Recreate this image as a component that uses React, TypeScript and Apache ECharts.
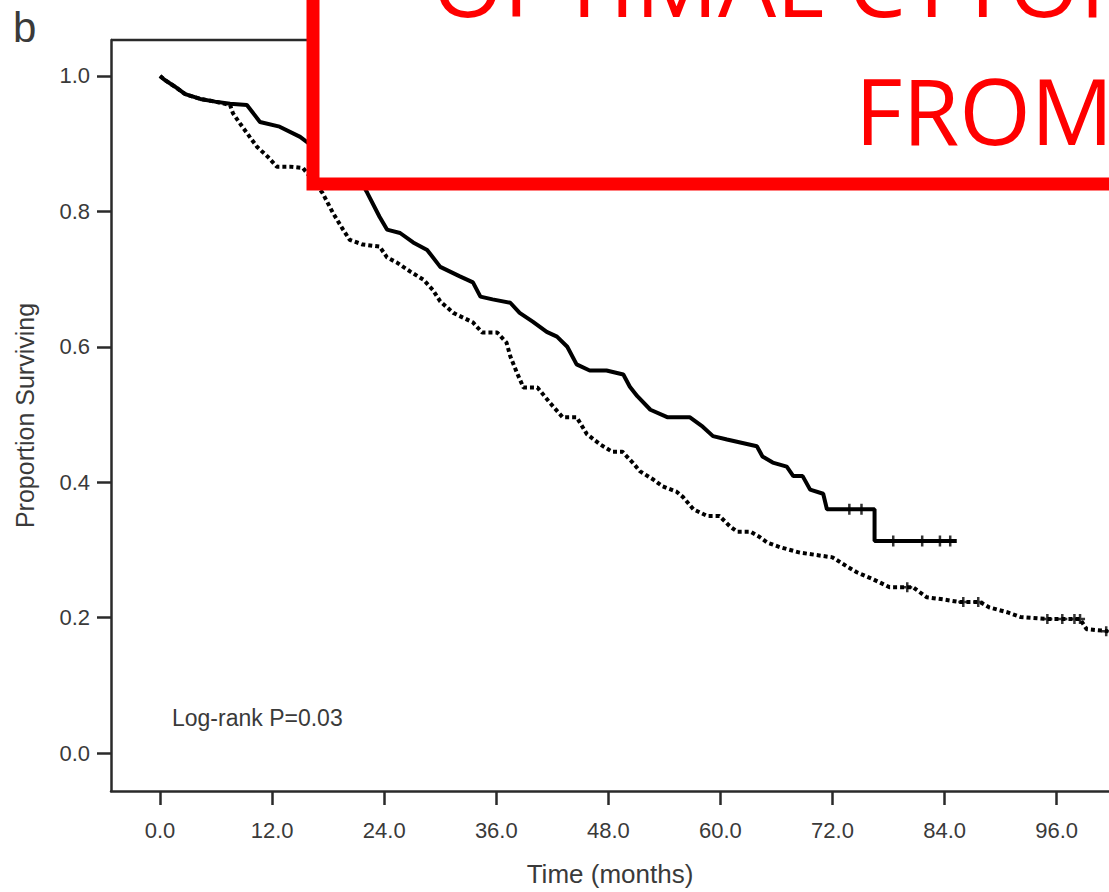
import React, { useEffect, useRef } from "react";
import * as echarts from "echarts";

// Solid curve (months, proportion surviving)
const solidMonths = [0, 0.5, 1.6, 2.7, 4.3, 5.9, 7.5, 9.3, 10.7, 12.8, 15.0, 17.1, 19.3, 21.4, 22.2, 23.5, 24.3, 25.7, 27.1, 28.6, 30.0, 32.1, 33.5, 34.3, 35.6, 37.5, 38.5, 39.9, 41.4, 42.5, 43.6, 44.6, 46.0, 47.8, 49.6, 50.3, 51.1, 52.5, 54.3, 56.7, 58.1, 59.2, 60.7, 63.9, 64.5, 65.6, 67.1, 67.8, 68.8, 69.6, 71.0, 71.4, 76.5, 76.5, 85.3];
const solidSurv = [1.0, 0.994, 0.984, 0.973, 0.966, 0.962, 0.959, 0.957, 0.932, 0.925, 0.91, 0.888, 0.869, 0.847, 0.827, 0.792, 0.773, 0.768, 0.754, 0.743, 0.718, 0.704, 0.695, 0.674, 0.67, 0.665, 0.65, 0.637, 0.622, 0.615, 0.6, 0.574, 0.565, 0.565, 0.559, 0.541, 0.527, 0.507, 0.496, 0.496, 0.482, 0.468, 0.463, 0.453, 0.438, 0.429, 0.423, 0.409, 0.409, 0.389, 0.383, 0.36, 0.36, 0.313, 0.313];

// Dotted curve
const dottedMonths = [0, 0.5, 1.6, 2.7, 4.3, 5.9, 7.5, 7.8, 8.6, 9.6, 10.4, 11.5, 12.5, 13.9, 15.3, 16.3, 17.4, 18.5, 19.6, 20.3, 21.7, 23.5, 24.3, 25.4, 26.8, 28.2, 29.2, 30.0, 31.4, 33.5, 34.5, 36.1, 37.1, 37.5, 38.2, 38.9, 40.4, 41.7, 43.1, 44.6, 45.7, 47.1, 48.4, 49.5, 50.6, 51.4, 52.8, 53.8, 55.3, 56.0, 57.1, 58.6, 59.9, 61.0, 61.8, 63.2, 64.2, 65.0, 66.4, 68.5, 71.0, 72.0, 73.5, 74.6, 76.3, 78.1, 80.6, 82.1, 83.8, 85.6, 87.8, 88.8, 90.7, 92.1, 95.0, 98.5, 99.2, 101.5];
const dottedSurv = [1.0, 0.994, 0.984, 0.973, 0.966, 0.962, 0.957, 0.945, 0.929, 0.91, 0.895, 0.881, 0.866, 0.866, 0.864, 0.847, 0.827, 0.798, 0.773, 0.758, 0.751, 0.748, 0.732, 0.724, 0.711, 0.699, 0.684, 0.667, 0.65, 0.636, 0.621, 0.621, 0.606, 0.586, 0.562, 0.54, 0.54, 0.518, 0.496, 0.496, 0.471, 0.456, 0.445, 0.445, 0.429, 0.416, 0.404, 0.394, 0.386, 0.378, 0.36, 0.35, 0.35, 0.335, 0.327, 0.327, 0.319, 0.311, 0.304, 0.296, 0.291, 0.289, 0.276, 0.267, 0.257, 0.245, 0.245, 0.23, 0.227, 0.223, 0.223, 0.215, 0.208, 0.201, 0.198, 0.198, 0.183, 0.18];

// Censoring marks
const solidCensorMonths = [73.8, 75.1, 78.5, 81.6, 83.5, 84.6];
const solidCensorSurv = [0.36, 0.36, 0.313, 0.313, 0.313, 0.313];
const dottedCensorMonths = [80.0, 86.0, 87.6, 95.0, 96.6, 97.9, 98.5, 101.3];
const dottedCensorSurv = [0.245, 0.223, 0.223, 0.198, 0.198, 0.198, 0.198, 0.18];

const xTicks = [0, 12, 24, 36, 48, 60, 72, 84, 96];
const yTicks = [0, 0.2, 0.4, 0.6, 0.8, 1.0];

const panelLabel = "b";
const pValueText = "Log-rank P=0.03";
const xName = "Time (months)";
const yName = "Proportion Surviving";
const bannerLine1 = "OPTIMAL CYTOREDUCTION";
const bannerLine2 = "FROM";

const pair = (xs: number[], ys: number[]) => xs.map((x, i) => [x, ys[i]]);

export default function App() {
  const ref = useRef<HTMLDivElement>(null);
  useEffect(() => {
    if (!ref.current) return;
    const chart = echarts.init(ref.current, null, { renderer: "svg" });
    const axisColor = "#2a2a2a";
    const textColor = "#3a3a3a";
    const font = "'Liberation Sans', Arial, sans-serif";
    const bannerFont = "'Open Sans', sans-serif";
    const plus = "path://M0 5H10M5 0V10";
    chart.setOption({
      animation: false,
      backgroundColor: "#ffffff",
      grid: { left: 111, top: 40, right: 0, bottom: 100 },
      xAxis: {
        type: "value",
        min: -5.25,
        max: 101.6,
        name: xName,
        nameLocation: "middle",
        nameGap: 70,
        nameTextStyle: { fontSize: 26, color: textColor, fontFamily: font },
        axisLine: { show: true, onZero: false, lineStyle: { color: axisColor, width: 2.5 } },
        axisTick: { show: true, customValues: xTicks, length: 14, lineStyle: { color: axisColor, width: 2.5 } },
        axisLabel: {
          customValues: xTicks,
          margin: 28,
          fontSize: 22,
          color: textColor,
          fontFamily: font,
          formatter: (v: number) => v.toFixed(1),
        },
        splitLine: { show: false },
      },
      yAxis: {
        type: "value",
        min: -0.056,
        max: 1.053,
        name: yName,
        nameLocation: "middle",
        nameGap: 74,
        nameTextStyle: { fontSize: 25, color: textColor, fontFamily: font },
        axisLine: { show: true, onZero: false, lineStyle: { color: axisColor, width: 2.5 } },
        axisTick: { show: true, customValues: yTicks, length: 14, lineStyle: { color: axisColor, width: 2.5 } },
        axisLabel: {
          customValues: yTicks,
          margin: 21,
          fontSize: 22,
          color: textColor,
          fontFamily: font,
          formatter: (v: number) => v.toFixed(1),
        },
        splitLine: { show: false },
      },
      series: [
        {
          type: "line",
          data: pair(dottedMonths, dottedSurv),
          showSymbol: false,
          lineStyle: { color: "#000", width: 4, type: [4, 3] },
          z: 2,
        },
        {
          type: "line",
          data: pair(solidMonths, solidSurv),
          showSymbol: false,
          lineStyle: { color: "#000", width: 4 },
          z: 3,
        },
        {
          type: "scatter",
          data: pair(solidCensorMonths, solidCensorSurv),
          symbol: plus,
          symbolSize: 11,
          itemStyle: { color: "none", borderColor: "#000", borderWidth: 2.5 },
          z: 4,
        },
        {
          type: "scatter",
          data: pair(dottedCensorMonths, dottedCensorSurv),
          symbol: plus,
          symbolSize: 10,
          itemStyle: { color: "none", borderColor: "#000", borderWidth: 2.5 },
          z: 4,
        },
      ],
      graphic: [
        {
          type: "line",
          shape: { x1: 111, y1: 40, x2: 1109, y2: 40 },
          style: { stroke: axisColor, lineWidth: 2.5 },
          z: 5,
        },
        {
          type: "text",
          left: 13,
          top: 6,
          style: { text: panelLabel, fontSize: 42, fill: textColor, fontFamily: font },
          z: 5,
        },
        {
          type: "text",
          left: 172,
          top: 706,
          style: { text: pValueText, fontSize: 23, fill: textColor, fontFamily: font },
          z: 5,
        },
        {
          type: "rect",
          shape: { x: 313, y: -100, width: 1000, height: 284 },
          style: { fill: "#ffffff", stroke: "#ff0000", lineWidth: 13 },
          z: 10,
        },
        {
          type: "text",
          x: 432,
          y: -19,
          style: {
            text: bannerLine1,
            fontSize: 92,
            fill: "#ff0000",
            fontFamily: bannerFont,
            verticalAlign: "middle",
          },
          z: 11,
        },
        {
          type: "text",
          x: 855,
          y: 109,
          style: {
            text: bannerLine2,
            fontSize: 92,
            fill: "#ff0000",
            fontFamily: bannerFont,
            verticalAlign: "middle",
          },
          z: 11,
        },
      ],
    });
    return () => chart.dispose();
  }, []);
  return (
    <div
      ref={ref}
      style={{ position: "absolute", left: 0, top: 0, width: 1109, height: 892, background: "#fff" }}
    />
  );
}
